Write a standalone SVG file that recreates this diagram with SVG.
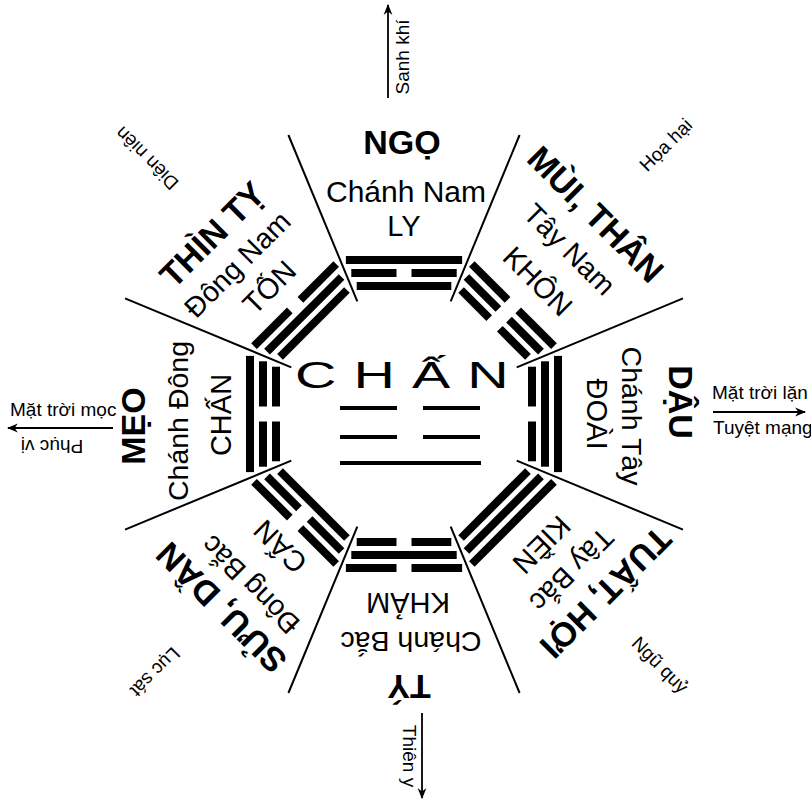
<svg xmlns="http://www.w3.org/2000/svg" xmlns:xlink="http://www.w3.org/1999/xlink" width="811" height="800" viewBox="0 0 811 800">
<style>
text{font-family:"Liberation Sans",Arial,sans-serif;fill:#000;text-anchor:middle}
.br{font-size:34px;font-weight:bold}
.dir{font-size:28.5px}
.tg{font-size:29px}
.sm{font-size:19px}
.st{text-anchor:start}
.div{stroke:#000;stroke-width:2;fill:none}
.arr{stroke:#000;stroke-width:1.8;fill:none}
rect{fill:#000}
</style>
<defs>
<marker id="ah" viewBox="0 0 10 10" refX="9" refY="5" markerWidth="11" markerHeight="11" orient="auto" markerUnits="userSpaceOnUse">
<path d="M0,1 L10,5 L0,9 L3,5 Z" fill="#000"/>
</marker>
<rect id="s1" x="356.7" y="282" width="94.6" height="8"/>
<rect id="s2" x="351.3" y="269" width="105.4" height="8"/>
<rect id="s3" x="345.9" y="256" width="116.2" height="8"/>
<g id="b1"><rect x="356.7" y="282" width="39.8" height="8"/><rect x="411.5" y="282" width="39.8" height="8"/></g>
<g id="b2"><rect x="351.3" y="269" width="45.2" height="8"/><rect x="411.5" y="269" width="45.2" height="8"/></g>
<g id="b3"><rect x="345.9" y="256" width="50.6" height="8"/><rect x="411.5" y="256" width="50.6" height="8"/></g>
</defs>
<rect x="0" y="0" width="811" height="800" style="fill:#fff"/>

<g id="dividers" class="div">
<line x1="450.7" y1="301.3" x2="519.6" y2="135"/>
<line x1="516.7" y1="367.3" x2="683" y2="298.4"/>
<line x1="516.7" y1="460.7" x2="683" y2="529.6"/>
<line x1="450.7" y1="526.7" x2="519.6" y2="693"/>
<line x1="357.3" y1="526.7" x2="288.4" y2="693"/>
<line x1="291.3" y1="460.7" x2="125" y2="529.6"/>
<line x1="291.3" y1="367.3" x2="125" y2="298.4"/>
<line x1="357.3" y1="301.3" x2="288.4" y2="135"/>
</g>

<g id="center-chan">
<text transform="translate(295,388) scale(1.55,1)" style="font-size:37px;text-anchor:start;letter-spacing:11px">CHẤN</text>
<rect x="340" y="406" width="57" height="4"/><rect x="423" y="406" width="57" height="4"/>
<rect x="340" y="435" width="57" height="4"/><rect x="423" y="435" width="57" height="4"/>
<rect x="340" y="461" width="141" height="4"/>
</g>

<g id="sector-ngo-ly">
<use xlink:href="#s1"/><use xlink:href="#b2"/><use xlink:href="#s3"/>
<text class="br" transform="translate(402,142)" dy="0.36em">NGỌ</text>
<text class="dir" transform="translate(406,191)" dy="0.36em" style="font-size:30px">Chánh Nam</text>
<text class="tg" transform="translate(404,226)" dy="0.36em">LY</text>
</g>

<g id="sector-mui-than-khon">
<g transform="rotate(45 404 414)"><use xlink:href="#b1"/><use xlink:href="#b2"/><use xlink:href="#b3"/></g>
<text class="br" transform="translate(596,214) rotate(45)" dy="0.36em">MÙI, THÂN</text>
<text class="dir" transform="translate(570,249) rotate(45)" dy="0.36em">Tây Nam</text>
<text class="tg" transform="translate(538,281) rotate(45)" dy="0.36em">KHÔN</text>
</g>

<g id="sector-dau-doai">
<g transform="rotate(90 404 414)"><use xlink:href="#b1"/><use xlink:href="#s2"/><use xlink:href="#s3"/></g>
<text class="br" transform="translate(681,402) rotate(90)" dy="0.36em">DẬU</text>
<text class="dir" transform="translate(632,416) rotate(90)" dy="0.36em">Chánh Tây</text>
<text class="tg" transform="translate(597,414) rotate(90)" dy="0.36em">ĐOÀI</text>
</g>

<g id="sector-tuat-hoi-kien">
<g transform="rotate(135 404 414)"><use xlink:href="#s1"/><use xlink:href="#s2"/><use xlink:href="#s3"/></g>
<text class="br" transform="translate(606,593) rotate(135)" dy="0.36em">TUẤT, HỢI</text>
<text class="dir" transform="translate(572,570) rotate(135)" dy="0.36em">Tây Bắc</text>
<text class="tg" transform="translate(542,545) rotate(135)" dy="0.36em">KIỀN</text>
</g>

<g id="sector-ty-kham">
<g transform="rotate(180 404 414)"><use xlink:href="#b1"/><use xlink:href="#s2"/><use xlink:href="#b3"/></g>
<text class="br" transform="translate(409,687) rotate(180)" dy="0.36em">TÝ</text>
<text class="dir" transform="translate(411,642) rotate(180)" dy="0.36em">Chánh Bắc</text>
<text class="tg" transform="translate(408,603) rotate(180)" dy="0.36em">KHẢM</text>
</g>

<g id="sector-suu-dan-can">
<g transform="rotate(225 404 414)"><use xlink:href="#s1"/><use xlink:href="#b2"/><use xlink:href="#b3"/></g>
<text class="br" transform="translate(221,608) rotate(225)" dy="0.36em">SỬU, DẦN</text>
<text class="dir" transform="translate(250,585) rotate(225)" dy="0.36em">Đông Bắc</text>
<text class="tg" transform="translate(280,547) rotate(225)" dy="0.36em">CẤN</text>
</g>

<g id="sector-meo-chan">
<g transform="rotate(270 404 414)"><use xlink:href="#b1"/><use xlink:href="#b2"/><use xlink:href="#s3"/></g>
<text class="br" transform="translate(133,426) rotate(-90)" dy="0.36em">MẸO</text>
<text class="dir" transform="translate(178,421) rotate(-90)" dy="0.36em">Chánh Đông</text>
<text class="tg" transform="translate(221,415) rotate(-90)" dy="0.36em">CHẤN</text>
</g>

<g id="sector-thin-ty-ton">
<g transform="rotate(315 404 414)"><use xlink:href="#s1"/><use xlink:href="#s2"/><use xlink:href="#b3"/></g>
<text class="br" transform="translate(212,234) rotate(-45)" dy="0.36em">THÌN TỴ</text>
<text class="dir" transform="translate(237,264) rotate(-45)" dy="0.36em">Đông Nam</text>
<text class="tg" transform="translate(269,287) rotate(-45)" dy="0.36em">TỐN</text>
</g>

<g id="outer-labels">
<text class="sm" transform="translate(403,57) rotate(-90)" dy="0.33em">Sanh khí</text>
<text class="sm" transform="translate(666,145) rotate(-45)" dy="0.33em">Họa hại</text>
<text class="sm st" x="712" y="399">Mặt trời lặn</text>
<text class="sm st" x="713" y="434">Tuyệt mạng</text>
<text class="sm" transform="translate(660,665) rotate(45)" dy="0.33em">Ngũ quỷ</text>
<text class="sm" transform="translate(409,756) rotate(90)" dy="0.33em">Thiên y</text>
<text class="sm" transform="translate(155,672) rotate(135)" dy="0.33em">Lục sát</text>
<text class="sm st" x="10" y="416">Mặt trời mọc</text>
<text class="sm" transform="translate(52,446) rotate(180)" dy="0.33em">Phục vị</text>
<text class="sm" transform="translate(147,158) rotate(225)" dy="0.33em">Diên niên</text>
</g>

<g id="connectors" class="arr">
<line x1="388" y1="98" x2="388" y2="5" marker-end="url(#ah)"/>
<line x1="713" y1="412" x2="805" y2="412" marker-end="url(#ah)"/>
<line x1="422" y1="713" x2="422" y2="798" marker-end="url(#ah)"/>
<line x1="113" y1="428" x2="8" y2="428" marker-end="url(#ah)"/>
</g>
</svg>
